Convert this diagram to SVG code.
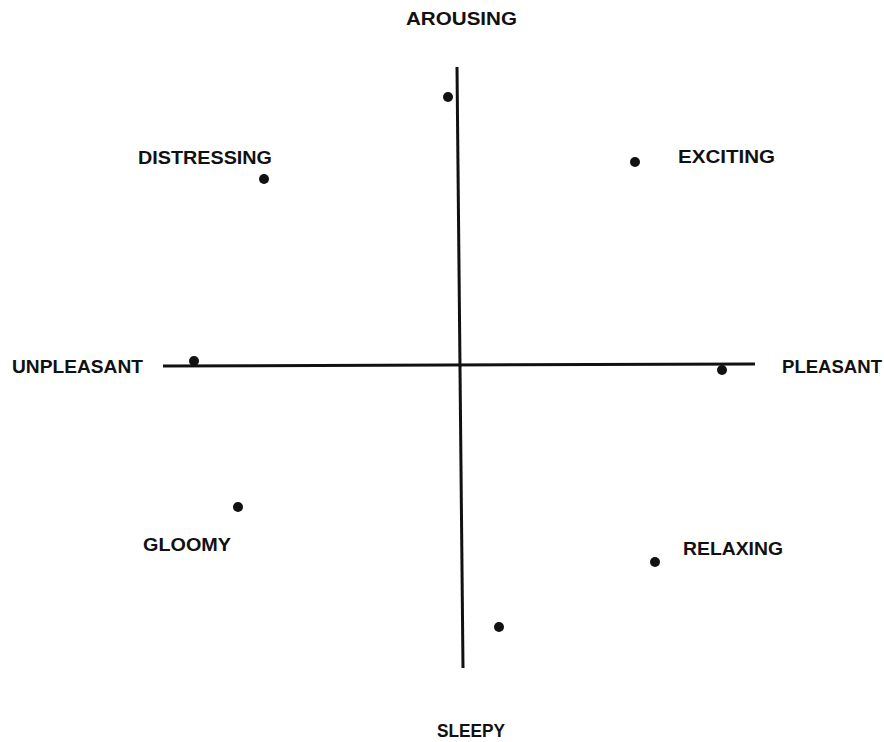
<svg xmlns="http://www.w3.org/2000/svg" width="884" height="742" viewBox="0 0 884 742">
<style>
.lbl{font-family:"Liberation Sans",Arial,sans-serif;font-weight:bold;font-size:19px;fill:#111}
.ax{stroke:#111;stroke-width:3;fill:none;stroke-linecap:butt}
.dot{fill:#111}
</style>
<rect width="884" height="742" fill="#fff"/>
<g id="connectors">
<line class="ax" x1="457" y1="67" x2="463" y2="668"/>
<line class="ax" x1="163" y1="366" x2="755" y2="364"/>
</g>
<g id="arousing"><circle class="dot" cx="448" cy="97" r="5"/><text class="lbl" x="406" y="25" textLength="111" lengthAdjust="spacingAndGlyphs">AROUSING</text></g>
<g id="distressing"><circle class="dot" cx="264" cy="179" r="5"/><text class="lbl" x="138" y="164" textLength="134" lengthAdjust="spacingAndGlyphs">DISTRESSING</text></g>
<g id="exciting"><circle class="dot" cx="635" cy="162" r="5"/><text class="lbl" x="678" y="163" textLength="97" lengthAdjust="spacingAndGlyphs">EXCITING</text></g>
<g id="unpleasant"><circle class="dot" cx="194" cy="361" r="5"/><text class="lbl" x="12" y="373" textLength="131" lengthAdjust="spacingAndGlyphs">UNPLEASANT</text></g>
<g id="pleasant"><circle class="dot" cx="722" cy="370" r="5"/><text class="lbl" x="782" y="373" textLength="100" lengthAdjust="spacingAndGlyphs">PLEASANT</text></g>
<g id="gloomy"><circle class="dot" cx="238" cy="507" r="5"/><text class="lbl" x="143" y="551" textLength="88" lengthAdjust="spacingAndGlyphs">GLOOMY</text></g>
<g id="relaxing"><circle class="dot" cx="655" cy="562" r="5"/><text class="lbl" x="683" y="555" textLength="100" lengthAdjust="spacingAndGlyphs">RELAXING</text></g>
<g id="sleepy"><circle class="dot" cx="499" cy="627" r="5"/><text class="lbl" x="437" y="737" textLength="68" lengthAdjust="spacingAndGlyphs">SLEEPY</text></g>
</svg>
